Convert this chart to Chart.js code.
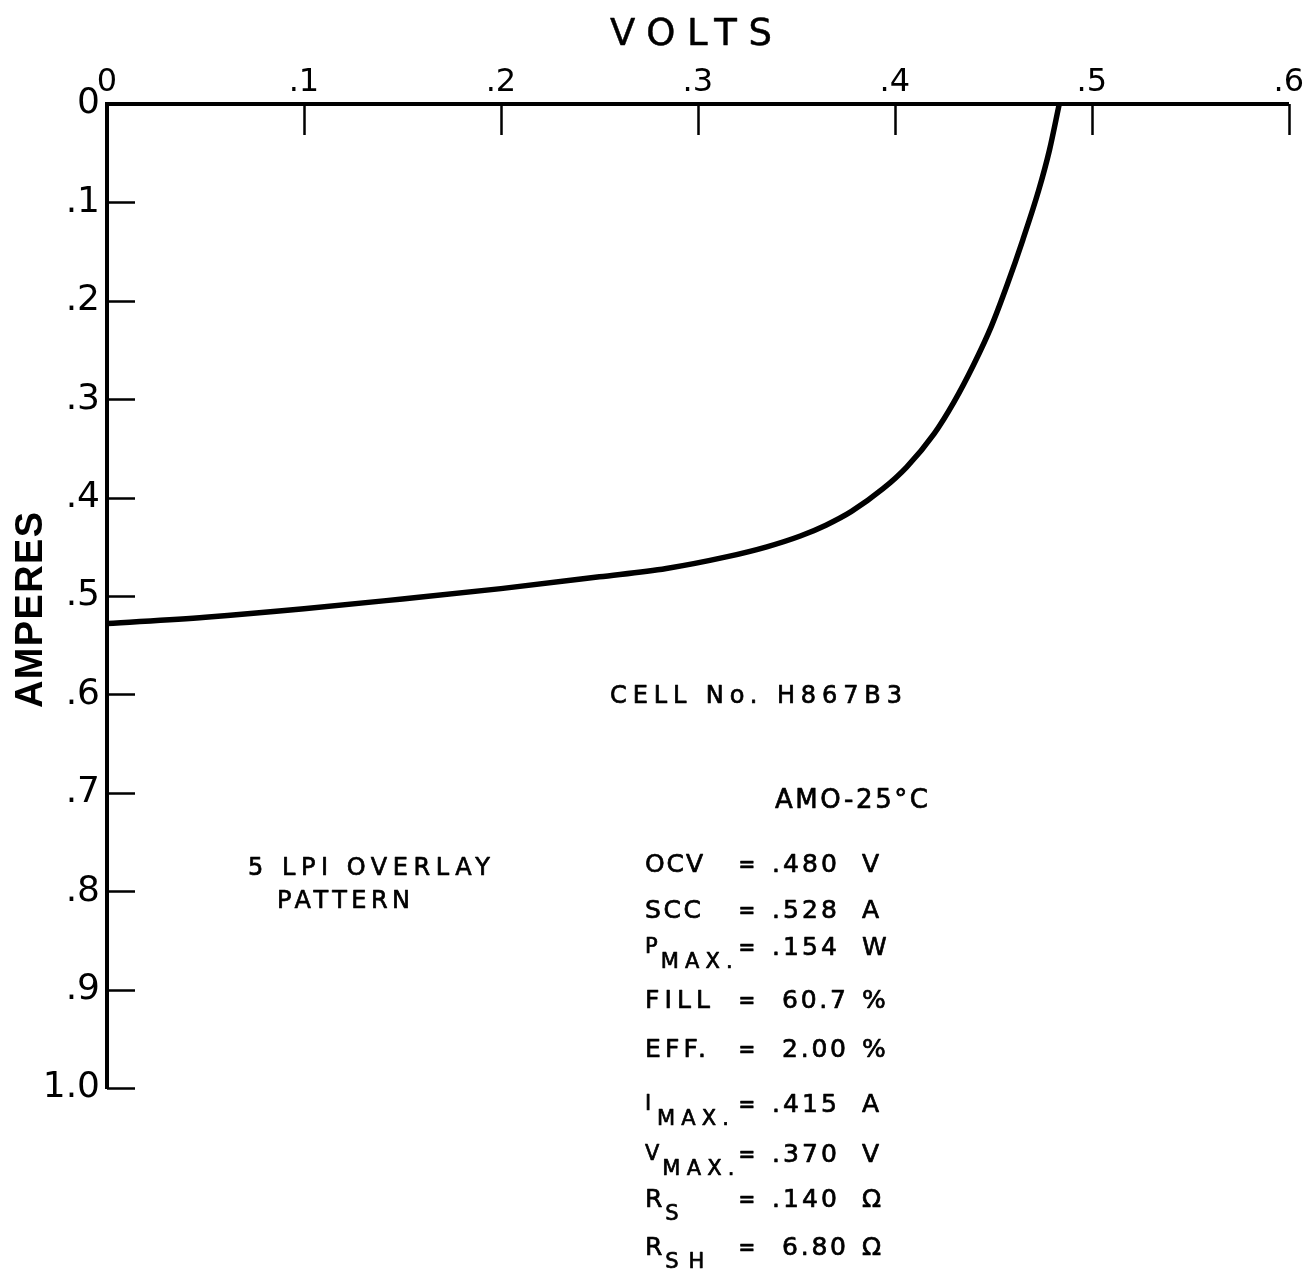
<!DOCTYPE html>
<html>
<head>
<meta charset="utf-8">
<script src="https://cdn.jsdelivr.net/npm/chart.js@4.4.0/dist/chart.umd.min.js"></script>
<style>
html,body{margin:0;padding:0;background:#fff;}
#wrap{width:1306px;height:1275px;position:relative;}
</style>
</head>
<body>
<div id="wrap"><canvas id="c"></canvas></div>
<script>
// ---- data ----
const volts = [0, 0.05, 0.10, 0.15, 0.20, 0.25, 0.284, 0.315, 0.335, 0.352, 0.365, 0.378, 0.394, 0.406, 0.420, 0.430, 0.440, 0.449, 0.457, 0.465, 0.473, 0.4785, 0.4835];
const amps  = [0.528, 0.5215, 0.513, 0.503, 0.4925, 0.4805, 0.472, 0.460, 0.450, 0.439, 0.428, 0.414, 0.391, 0.369, 0.335, 0.303, 0.265, 0.226, 0.184, 0.138, 0.088, 0.047, 0.0];
const xTickLabels = ['0', '.1', '.2', '.3', '.4', '.5', '.6'];
const yTickLabels = ['0', '.1', '.2', '.3', '.4', '.5', '.6', '.7', '.8', '.9', '1.0'];
const xTitle = 'VOLTS';
const yTitle = 'AMPERES';
const cellLabel = 'CELL No. H867B3';
const conditionLabel = 'AMO-25°C';
const overlayLines = ['5 LPI OVERLAY', 'PATTERN'];
const paramNames  = ['OCV', 'SCC', 'P', 'FILL', 'EFF.', 'I', 'V', 'R', 'R'];
const paramSubs   = ['', '', 'MAX.', '', '', 'MAX.', 'MAX.', 'S', 'SH'];
const paramValues = ['.480', '.528', '.154', '60.7', '2.00', '.415', '.370', '.140', '6.80'];
const paramUnits  = ['V', 'A', 'W', '%', '%', 'A', 'V', 'Ω', 'Ω'];

// ---- drawing ----
const FONT = '"DejaVu Sans", "Liberation Sans", Arial, sans-serif';
const TFONT = '"Liberation Sans", Arial, sans-serif';

function spacedText(ctx, text, x, y, size, width, weight, align, family, stroke) {
  ctx.save();
  ctx.font = (weight || 'normal') + ' ' + size + 'px ' + (family || FONT);
  ctx.letterSpacing = '0px';
  const n = Array.from(text).length;
  const nat = ctx.measureText(text).width;
  let ls = 0;
  if (width != null && n > 1) ls = (width - nat) / (n - 1);
  ctx.letterSpacing = ls + 'px';
  const total = nat + ls * (n - 1);
  let sx = x;
  if (align === 'center') sx = x - total / 2;
  else if (align === 'right') sx = x - total;
  ctx.textAlign = 'left';
  ctx.textBaseline = 'alphabetic';
  ctx.fillStyle = '#000';
  ctx.fillText(text, sx, y);
  const sw = (stroke === undefined) ? 0.7 : stroke;
  if (sw > 0) {
    ctx.strokeStyle = '#000';
    ctx.lineWidth = sw;
    ctx.lineJoin = 'round';
    ctx.strokeText(text, sx, y);
  }
  ctx.restore();
  return sx + total;
}

const decor = {
  id: 'decor',
  afterDraw(chart) {
    const ctx = chart.ctx;
    const xs = chart.scales.x, ys = chart.scales.y, ca = chart.chartArea;
    // inner tick marks
    ctx.save();
    ctx.strokeStyle = '#000';
    ctx.lineWidth = 2.5;
    ctx.beginPath();
    xs.ticks.forEach(t => {
      if (Math.abs(t.value) < 1e-9) return;
      const px = Math.round(xs.getPixelForValue(t.value)) + 0.5;
      ctx.moveTo(px, ca.top); ctx.lineTo(px, ca.top + 31);
    });
    ys.ticks.forEach(t => {
      if (Math.abs(t.value) < 1e-9) return;
      const py = Math.round(ys.getPixelForValue(t.value)) + 0.5;
      ctx.moveTo(ca.left, py); ctx.lineTo(ca.left + 28, py);
    });
    ctx.stroke();
    ctx.restore();

    // axis titles
    spacedText(ctx, xTitle, 610, 45, 37, 162, 'normal', 'left', FONT, 0.5);
    ctx.save();
    ctx.translate(0, 610);
    ctx.rotate(-Math.PI / 2);
    spacedText(ctx, yTitle, 0, 42, 38, 196, 'bold', 'center', TFONT, 0);
    ctx.restore();

    // annotations
    spacedText(ctx, cellLabel, 610, 703, 24, 292);
    spacedText(ctx, conditionLabel, 775, 808, 26, 153);
    spacedText(ctx, overlayLines[0], 248, 875, 24, 242);
    spacedText(ctx, overlayLines[1], 277, 908, 24, 133);

    const rowBase = [872, 918, 955, 1008, 1057, 1112, 1162, 1207, 1255];
    const nameW = {'OCV': 58, 'SCC': 56, 'FILL': 65, 'EFF.': 61};
    const subW = {'MAX.': 72, 'S': null, 'SH': 39};
    paramNames.forEach((nm, i) => {
      const b = rowBase[i];
      const sub = paramSubs[i];
      if (!sub) {
        spacedText(ctx, nm, 645, b, 25, nameW[nm]);
      } else {
        const small = (nm !== 'R');
        const end = spacedText(ctx, nm, 645, small ? b - 2 : b, small ? 21 : 25, null);
        const sx = Math.max(small ? 657 : 664, end + 3);
        spacedText(ctx, sub, sx, b + 13, 21, subW[sub]);
      }
      spacedText(ctx, '=', 747, b - 1, 20, null, 'bold', 'center');
      const v = paramValues[i];
      if (v.charAt(0) === '.') spacedText(ctx, v, 772, b, 25, 65);
      else spacedText(ctx, v, 782, b, 25, 64);
      spacedText(ctx, paramUnits[i], 862, b, 25, null);
    });
  }
};

const points = volts.map((v, i) => ({x: v, y: amps[i]}));

new Chart(document.getElementById('c'), {
  type: 'line',
  data: {
    datasets: [{
      data: points,
      borderColor: '#000',
      borderWidth: 5.5,
      pointRadius: 0,
      fill: false,
      cubicInterpolationMode: 'monotone',
      borderCapStyle: 'round',
      borderJoinStyle: 'round'
    }]
  },
  options: {
    responsive: true,
    maintainAspectRatio: false,
    animation: false,
    layout: {padding: {top: 0, left: 0, right: 14, bottom: 187}},
    plugins: {legend: {display: false}, tooltip: {enabled: false}},
    scales: {
      x: {
        type: 'linear', position: 'top', min: 0, max: 0.6,
        grid: {display: false, drawTicks: false},
        border: {display: true, color: '#000', width: 4},
        ticks: {
          stepSize: 0.1, padding: 2, color: '#000', maxRotation: 0, autoSkip: false,
          font: {family: FONT, size: 32},
          callback: v => xTickLabels[Math.round(v * 10)]
        },
        afterFit: s => { s.height = 104; }
      },
      y: {
        type: 'linear', position: 'left', reverse: true, min: 0, max: 1,
        grid: {display: false, drawTicks: false},
        border: {display: true, color: '#000', width: 4},
        ticks: {
          stepSize: 0.1, padding: 7, color: '#000', autoSkip: false,
          font: {family: FONT, size: 36},
          callback: v => yTickLabels[Math.round(v * 10)]
        },
        afterFit: s => { s.width = 107; }
      }
    }
  },
  plugins: [decor]
});
</script>
</body>
</html>
